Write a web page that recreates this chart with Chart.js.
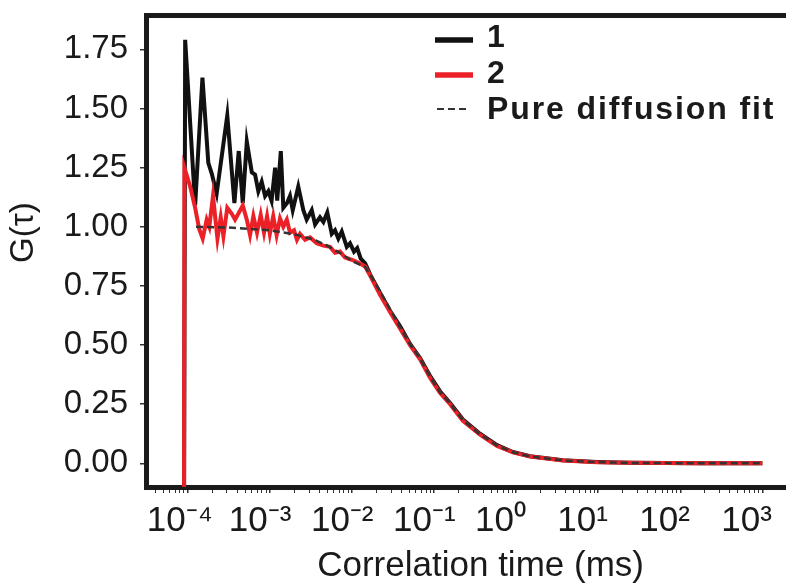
<!DOCTYPE html>
<html lang="en">
<head>
<meta charset="UTF-8">
<title>G(τ) vs correlation time</title>
<script src="https://cdn.jsdelivr.net/npm/chart.js"></script>
<style>
  html, body { margin: 0; padding: 0; background: #fff; overflow: hidden; }
  #wrap { width: 786px; height: 584px; position: relative; }
</style>
</head>
<body>
<div id="wrap"><canvas id="fcsChart"></canvas></div>
<script>
// lag times (ms) and G(tau)
const tau1 = [9.0e-5, 9.3e-5, 1.23e-4, 1.51e-4, 1.78e-4, 1.96e-4, 2.25e-4, 3.03e-4, 3.70e-4, 4.18e-4,
  4.68e-4, 5.24e-4, 6.03e-4, 6.61e-4, 7.24e-4, 7.96e-4, 8.75e-4, 9.60e-4, 1.05e-3, 1.16e-3,
  1.23e-3, 1.36e-3, 1.46e-3, 1.62e-3, 1.76e-3, 1.90e-3, 2.22e-3, 2.56e-3, 2.81e-3, 3.24e-3,
  3.56e-3, 4.08e-3, 4.49e-3, 5.01e-3, 5.68e-3, 6.22e-3, 6.83e-3, 7.52e-3, 8.65e-3, 9.48e-3,
  1.06e-2, 1.16e-2, 1.28e-2, 1.45e-2, 1.66e-2, 2.20e-2, 2.91e-2, 3.85e-2, 5.10e-2, 6.76e-2,
  8.93e-2, 0.118, 0.157, 0.225, 0.363, 0.585, 0.916, 1.48, 3.72, 9.66, 24.4, 174, 1000];
const g1 = [-0.3, 1.79, 1.09, 1.63, 1.27, 1.225, 1.14, 1.47, 1.10, 1.32,
  1.10, 1.36, 1.23, 1.22, 1.15, 1.19, 1.13, 1.15, 1.11, 1.25,
  1.11, 1.32, 1.08, 1.10, 1.13, 1.07, 1.17, 1.07, 1.03, 1.07,
  1.01, 1.04, 1.02, 1.06, 0.97, 0.985, 0.95, 0.98, 0.915, 0.93,
  0.895, 0.91, 0.865, 0.845, 0.80, 0.72, 0.645, 0.58, 0.505, 0.445,
  0.37, 0.305, 0.255, 0.185, 0.125, 0.077, 0.048, 0.030, 0.013, 0.006, 0.002, 0.0, 0.0];

const tau2 = [9.0e-5, 9.1e-5, 1.07e-4, 1.23e-4, 1.38e-4, 1.52e-4, 1.70e-4, 1.83e-4, 2.03e-4, 2.30e-4,
  2.52e-4, 2.72e-4, 3.03e-4, 3.44e-4, 3.77e-4, 4.68e-4, 5.24e-4, 5.74e-4, 6.30e-4, 6.98e-4,
  7.74e-4, 8.49e-4, 9.25e-4, 1.00e-3, 1.10e-3, 1.21e-3, 1.33e-3, 1.46e-3, 1.61e-3, 1.76e-3,
  1.97e-3, 2.14e-3, 2.33e-3, 2.69e-3, 3.09e-3, 3.72e-3, 4.49e-3, 5.41e-3, 6.22e-3, 7.16e-3,
  8.24e-3, 1.04e-2, 1.26e-2, 1.45e-2, 1.66e-2, 2.20e-2, 2.91e-2, 3.85e-2, 5.10e-2, 6.76e-2,
  8.93e-2, 0.118, 0.157, 0.225, 0.363, 0.585, 0.916, 1.48, 3.72, 9.66, 24.4, 174, 1000];
const g2 = [-0.3, 1.25, 1.17, 1.08, 0.99, 0.95, 1.03, 1.00, 1.13, 0.95,
  1.04, 0.96, 1.08, 1.055, 1.03, 1.09, 1.03, 0.965, 1.045, 0.975,
  1.05, 0.975, 1.045, 0.97, 1.045, 0.965, 1.035, 1.00, 1.03, 0.975,
  0.985, 0.945, 0.97, 0.945, 0.955, 0.93, 0.92, 0.915, 0.89, 0.895,
  0.87, 0.858, 0.845, 0.832, 0.795, 0.712, 0.64, 0.57, 0.50, 0.44,
  0.362, 0.298, 0.25, 0.18, 0.121, 0.073, 0.046, 0.029, 0.012, 0.005, 0.002, 0.0, 0.0];

const tauFit = [1.26e-4, 3.0e-4, 1.0e-3, 2.0e-3, 3.5e-3, 5.0e-3, 7.5e-3, 1.0e-2, 1.45e-2, 2.2e-2,
  2.91e-2, 3.85e-2, 5.1e-2, 6.76e-2, 8.93e-2, 0.118, 0.157, 0.225, 0.363, 0.585,
  0.916, 1.48, 3.72, 9.66, 24.4, 174, 1000];
const gFit = [1.0, 0.997, 0.985, 0.968, 0.945, 0.92, 0.885, 0.855, 0.83, 0.728,
  0.652, 0.576, 0.503, 0.443, 0.366, 0.301, 0.252, 0.182, 0.122, 0.075,
  0.047, 0.029, 0.012, 0.005, 0.002, 0.0, 0.0];

const seriesLabels = ['1', '2', 'Pure diffusion fit'];
const yTickValues = [0, 0.25, 0.5, 0.75, 1.0, 1.25, 1.5, 1.75];
const xDecades = [1e-4, 1e-3, 1e-2, 1e-1, 1, 10, 100, 1000];
const xTickLabels = ['10⁻⁴', '10⁻³', '10⁻²', '10⁻¹', '10⁰', '10¹', '10²', '10³'];

const X_MIN = 3.1e-5, X_MAX = 1940;
const Y_MIN = -0.1, Y_MAX = 1.895;

const FONT = '"Liberation Sans", Arial, Helvetica, sans-serif';
const INK = '#1a1a1a';

function pts(xs, ys) {
  return xs.map((x, i) => ({ x: x, y: ys[i] }));
}

function decadeIndex(v) {
  return xDecades.findIndex(d => Math.abs(Math.log10(d) - Math.log10(v)) < 1e-6);
}

// scales must not push the plot area in for their edge labels
function noPadding(scale) {
  scale.paddingTop = 0;
  scale.paddingBottom = 0;
  scale.paddingLeft = 0;
  scale.paddingRight = 0;
}

// legend drawn in the upper right of the plot, like the original
const cornerLegend = {
  id: 'cornerLegend',
  afterDraw(chart) {
    const ctx = chart.ctx;
    const textY = [38, 74, 110];
    const lineY = [40, 75, 109];
    ctx.save();
    ctx.font = 'bold 32px ' + FONT;
    ctx.textBaseline = 'middle';
    ctx.letterSpacing = '1.9px';
    chart.data.datasets.forEach((ds, i) => {
      const solid = i < 2;
      ctx.beginPath();
      ctx.strokeStyle = ds.borderColor;
      ctx.lineWidth = solid ? 5.5 : 2;
      ctx.setLineDash(solid ? [] : [7, 4]);
      ctx.moveTo(solid ? 435 : 437, lineY[i]);
      ctx.lineTo(solid ? 473 : 469, lineY[i]);
      ctx.stroke();
      ctx.setLineDash([]);
      ctx.fillStyle = INK;
      ctx.fillText(ds.label, 487, textY[i]);
    });
    ctx.restore();
  }
};

new Chart(document.getElementById('fcsChart'), {
  type: 'line',
  data: {
    datasets: [
      {
        label: seriesLabels[0],
        data: pts(tau1, g1),
        borderColor: '#111111',
        borderWidth: 4,
        pointRadius: 0,
        tension: 0,
        order: 3,
        clip: 0
      },
      {
        label: seriesLabels[1],
        data: pts(tau2, g2),
        borderColor: '#ec2027',
        borderWidth: 4,
        pointRadius: 0,
        tension: 0,
        order: 2,
        clip: 0
      },
      {
        label: seriesLabels[2],
        data: pts(tauFit, gFit),
        borderColor: '#333333',
        borderWidth: 2.5,
        borderDash: [7, 4],
        pointRadius: 0,
        tension: 0,
        order: 1,
        clip: 0
      }
    ]
  },
  options: {
    responsive: true,
    maintainAspectRatio: false,
    animation: false,
    layout: { padding: { top: 15, left: 0, right: 0, bottom: 0 } },
    plugins: {
      legend: { display: false },
      tooltip: { enabled: false }
    },
    scales: {
      x: {
        type: 'logarithmic',
        position: 'bottom',
        min: X_MIN,
        max: X_MAX,
        z: 1,
        border: { display: true, color: INK, width: 5 },
        grid: {
          drawOnChartArea: false,
          drawTicks: true,
          tickLength: 6,
          color: '#333333',
          lineWidth: c => (c.tick && decadeIndex(c.tick.value) >= 0 ? 1.5 : 1)
        },
        afterBuildTicks: scale => {
          const ticks = [];
          for (let e = -5; e <= 3; e++) {
            for (let m = 1; m <= 9; m++) {
              const v = m * Math.pow(10, e);
              if (v >= X_MIN && v <= X_MAX) ticks.push({ value: v });
            }
          }
          scale.ticks = ticks;
        },
        afterFit: scale => { scale.height = 97; noPadding(scale); },
        ticks: {
          autoSkip: false,
          maxRotation: 0,
          minRotation: 0,
          align: 'start',
          labelOffset: -41,
          padding: 7,
          color: INK,
          font: { family: FONT, size: 35 },
          callback: value => {
            const i = decadeIndex(value);
            return i >= 0 ? xTickLabels[i] : '';
          }
        },
        title: {
          display: true,
          text: '   Correlation time (ms)',
          color: INK,
          font: { family: FONT, size: 35 },
          padding: { top: 0, bottom: -3 }
        }
      },
      xTop: {
        type: 'logarithmic',
        position: 'top',
        min: X_MIN,
        max: X_MAX,
        z: 1,
        border: { display: true, color: INK, width: 5 },
        grid: { drawOnChartArea: false, drawTicks: false, color: 'rgba(0,0,0,0)' },
        ticks: { display: false },
        afterFit: scale => { scale.height = 0; noPadding(scale); }
      },
      y: {
        type: 'linear',
        position: 'left',
        min: Y_MIN,
        max: Y_MAX,
        z: 1,
        border: { display: true, color: INK, width: 5 },
        grid: {
          drawOnChartArea: false,
          drawTicks: true,
          tickLength: 6,
          color: '#333333',
          lineWidth: 1.5
        },
        afterBuildTicks: scale => {
          scale.ticks = yTickValues.map(v => ({ value: v }));
        },
        afterFit: scale => { scale.width = 146; noPadding(scale); },
        ticks: {
          padding: 12,
          color: INK,
          font: { family: FONT, size: 33 },
          callback: value => Number(value).toFixed(2)
        },
        title: {
          display: true,
          text: '    G(τ)',
          color: INK,
          font: { family: FONT, size: 33 },
          padding: { top: 4, bottom: 0 }
        }
      }
    }
  },
  plugins: [cornerLegend]
});
</script>
</body>
</html>
